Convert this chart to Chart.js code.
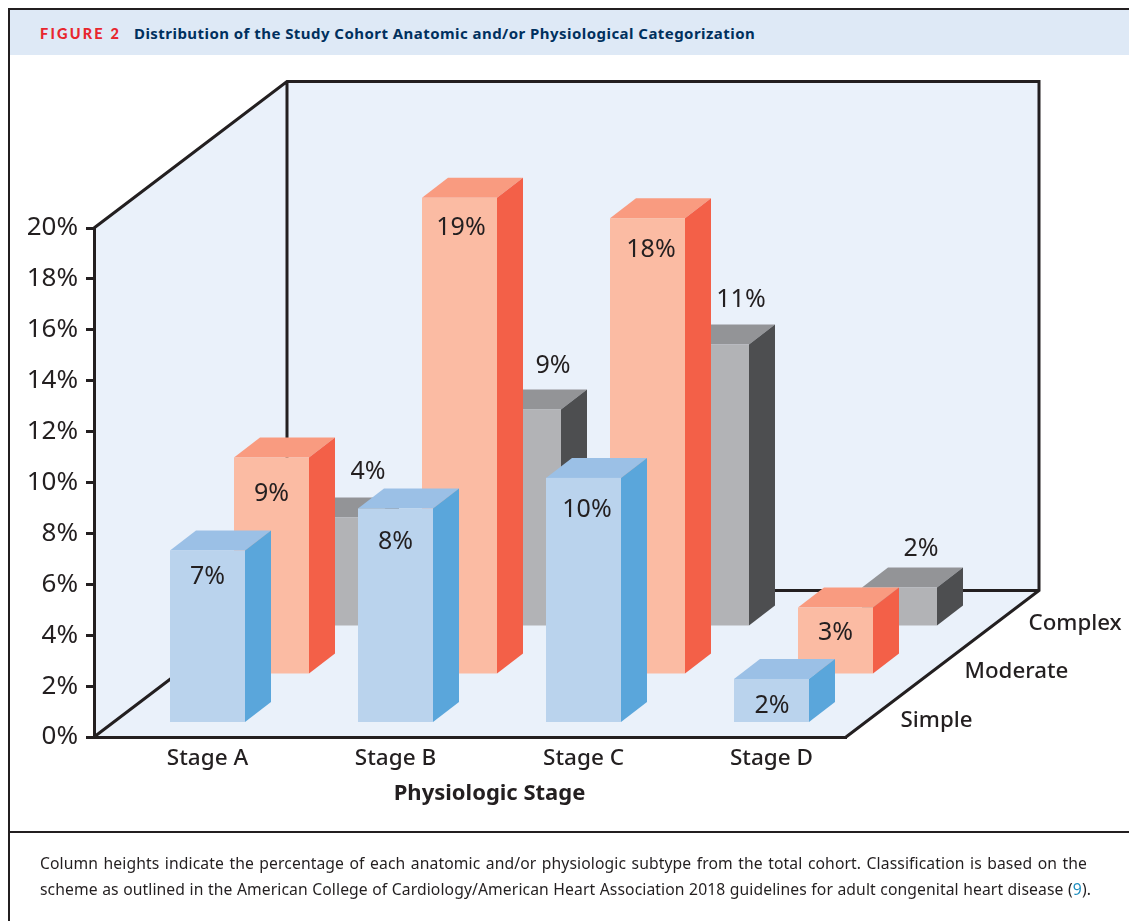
<!DOCTYPE html>
<html>
<head>
<meta charset="utf-8">
<title>Figure 2</title>
<script src="https://cdn.jsdelivr.net/npm/chart.js@4/dist/chart.umd.min.js"></script>
<style>
html, body { margin: 0; padding: 0; background: #fff; }
#page { position: relative; width: 1129px; height: 921px; overflow: hidden; font-family: 'Noto Sans', sans-serif; color: #231f20; }
#frameTop { position: absolute; left: 8px; top: 8px; width: 1121px; height: 2px; background: #231f20; }
#frameLeft { position: absolute; left: 8px; top: 8px; width: 2px; height: 913px; background: #231f20; }
#band { position: absolute; left: 10px; top: 10px; width: 1119px; height: 45px; background: #dee9f6; }
#figNo { position: absolute; left: 40px; top: 25px; font: 900 14.5px/18px Lato, sans-serif; letter-spacing: 2.2px; color: #e8262e; white-space: nowrap; }
#figTitle { position: absolute; left: 134px; top: 23px; font: 700 15px/20px 'Noto Sans', sans-serif; letter-spacing: 0.45px; color: #00305e; white-space: nowrap; }
#rule { position: absolute; left: 8px; top: 831px; width: 1121px; height: 2px; background: #231f20; }
.cap { position: absolute; left: 40px; font-size: 15.7px; letter-spacing: 0.1px; line-height: 20px; white-space: nowrap; text-align: justify; text-align-last: justify; }
#cap1 { top: 853px; width: 1047px; }
#cap2 { top: 879px; width: 1051px; }
.cap b { font-weight: 400; color: #1f8fc0; }
canvas { position: absolute; left: 0; top: 0; }
</style>
</head>
<body>
<div id="page">
  <div id="band"></div>
  <div id="frameTop"></div>
  <div id="frameLeft"></div>
  <div id="figNo">FIGURE 2</div>
  <div id="figTitle">Distribution of the Study Cohort Anatomic and/or Physiological Categorization</div>
  <canvas id="chart" width="1129" height="921"></canvas>
  <div id="rule"></div>
  <div class="cap" id="cap1">Column heights indicate the percentage of each anatomic and/or physiologic subtype from the total cohort. Classification is based on the</div>
  <div class="cap" id="cap2">scheme as outlined in the American College of Cardiology/American Heart Association 2018 guidelines for adult congenital heart disease (<b>9</b>).</div>
</div>
<script>
// Data (drawn column heights, labels are the rounded value)
const STAGES = ['Stage A', 'Stage B', 'Stage C', 'Stage D'];
const SIMPLE = [6.8, 8.45, 9.65, 1.75];
const MODERATE = [8.55, 18.75, 17.95, 2.65];
const COMPLEX = [4.3, 8.55, 11.1, 1.55];
const AXIS_TITLE = 'Physiologic Stage';

const INK = '#231f20';
const WALL = '#eaf1fa';
const FONT = "'Noto Sans', sans-serif";

// Oblique projection: how far each row sits back from the front edge
const BACK_X = 193;
const BACK_Y = -146.5;
const BAR_SIDE_X = 26;
const BAR_SIDE_Y = -20;

// textDx/textDy: where the value label sits relative to the column's top centre
const rows = [
    { label: 'Simple', data: SIMPLE, front: '#bad3ed', side: '#5aa6db', top: '#9bc0e6', dx: 19.5, dy: -13.5,
      textDx: [0, 0, 3.5, 0.5], textDy: [26, 33, 32, 27] },
    { label: 'Moderate', data: MODERATE, front: '#fbbba3', side: '#f36048', top: '#f99b80', dx: 83.5, dy: -62,
      textDx: [0, 1.5, 3.5, 0], textDy: [36, 30, 32, 25] },
    { label: 'Complex', data: COMPLEX, front: '#b2b3b6', side: '#4d4e50', top: '#939497', dx: 147.5, dy: -110,
      textDx: [32.5, 29.5, 29.5, 21.5], textDy: [-46, -44, -45, -39] },
];

function polygon(ctx, pts, fill) {
    ctx.beginPath();
    pts.forEach((p, i) => i ? ctx.lineTo(p[0], p[1]) : ctx.moveTo(p[0], p[1]));
    ctx.closePath();
    ctx.fillStyle = fill;
    ctx.fill();
}

// Walls and floor of the box, behind the axes
const boxPlugin = {
    id: 'box',
    beforeDraw(chart) {
        const { ctx, chartArea: a } = chart;
        const l = a.left, r = a.right, t = a.top, b = a.bottom;
        polygon(ctx, [[l + BACK_X, t + BACK_Y], [r + BACK_X, t + BACK_Y], [r + BACK_X, b + BACK_Y], [r, b], [l, b], [l, t]], WALL);
        ctx.save();
        ctx.strokeStyle = INK;
        ctx.lineWidth = 3;
        ctx.lineJoin = 'miter';
        ctx.beginPath();
        ctx.moveTo(l, t);
        ctx.lineTo(l + BACK_X, t + BACK_Y);
        ctx.lineTo(r + BACK_X, t + BACK_Y);
        ctx.lineTo(r + BACK_X, b + BACK_Y);
        ctx.lineTo(r, b);
        ctx.moveTo(l + BACK_X, t + BACK_Y);
        ctx.lineTo(l + BACK_X, b + BACK_Y);
        ctx.lineTo(r + BACK_X, b + BACK_Y);
        ctx.moveTo(l + BACK_X, b + BACK_Y);
        ctx.lineTo(l, b);
        ctx.stroke();
        ctx.restore();
    },
};

// Columns: the bar elements give x, y, base and width, the row shifts them back
const columnPlugin = {
    id: 'columns',
    beforeDatasetDraw(chart, args) {
        const { ctx } = chart;
        const row = rows[args.index];
        args.meta.data.forEach((bar) => {
            const p = bar.getProps(['x', 'y', 'base', 'width']);
            const x0 = p.x - p.width / 2 + row.dx, x1 = p.x + p.width / 2 + row.dx;
            const y0 = p.y + row.dy, y1 = p.base + row.dy;
            polygon(ctx, [[x0, y0], [x1, y0], [x1 + BAR_SIDE_X, y0 + BAR_SIDE_Y], [x0 + BAR_SIDE_X, y0 + BAR_SIDE_Y]], row.top);
            polygon(ctx, [[x1, y0], [x1 + BAR_SIDE_X, y0 + BAR_SIDE_Y], [x1 + BAR_SIDE_X, y1 + BAR_SIDE_Y], [x1, y1]], row.side);
            ctx.fillStyle = row.front;
            ctx.fillRect(x0, y0, x1 - x0, y1 - y0);
        });
        return false;
    },
    afterDatasetsDraw(chart) {
        const { ctx, chartArea: a, scales } = chart;
        ctx.save();
        ctx.fillStyle = INK;
        ctx.textBaseline = 'middle';

        // value labels, on top of every column
        ctx.font = `25px ${FONT}`;
        ctx.textAlign = 'center';
        rows.forEach((row, r) => {
            chart.getDatasetMeta(r).data.forEach((bar, i) => {
                const text = Math.round(row.data[i]) + '%';
                ctx.fillText(text, bar.x + row.dx + row.textDx[i], bar.y + row.dy + row.textDy[i]);
            });
        });

        // row names along the right floor edge
        ctx.font = `500 22.3px ${FONT}`;
        rows.forEach((row) => {
            ctx.textAlign = 'left';
            ctx.fillText(row.label, a.right + row.dx + 35, scales.y.getPixelForValue(0) + row.dy - 3);
        });

        ctx.font = `700 22px ${FONT}`;
        ctx.textAlign = 'center';
        ctx.fillText(AXIS_TITLE, (a.left + a.right) / 2 + 19.5, a.bottom + 57);
        ctx.restore();
    },
};

new Chart(document.getElementById('chart').getContext('2d'), {
    type: 'bar',
    data: {
        labels: STAGES,
        datasets: rows.map((row) => ({
            label: row.label,
            data: row.data,
            backgroundColor: row.front,
            barThickness: 75,
            grouped: false,
        })),
    },
    plugins: [boxPlugin, columnPlugin],
    options: {
        responsive: false,
        devicePixelRatio: 1,
        animation: false,
        layout: { padding: { top: 228, right: 283, left: 0, bottom: 0 } },
        plugins: { legend: { display: false }, tooltip: { enabled: false } },
        scales: {
            x: {
                grid: { display: false, drawTicks: false },
                border: { display: true, color: INK, width: 3 },
                ticks: { color: INK, font: { family: FONT, size: 22.5, weight: '500' }, labelOffset: 19.5, padding: 8, maxRotation: 0 },
                afterFit: (s) => { s.height = 184; },
            },
            y: {
                min: 0,
                max: 20,
                grid: { drawOnChartArea: false, drawTicks: true, tickLength: 8, color: INK, lineWidth: 3 },
                border: { display: true, color: INK, width: 3 },
                ticks: { stepSize: 2, color: INK, padding: 8, font: { family: FONT, size: 26 }, callback: (v) => v + '%' },
                afterFit: (s) => { s.width = 94; },
            },
        },
    },
});
</script>
</body>
</html>
